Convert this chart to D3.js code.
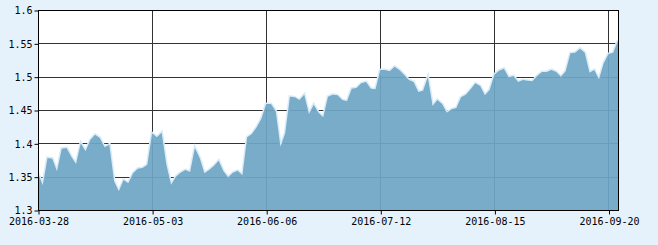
<!DOCTYPE html>
<html>
<head>
<meta charset="utf-8">
<title>net value chart</title>
<script src="https://d3js.org/d3.v7.min.js"></script>
<style>
  html, body { margin: 0; padding: 0; background: #e6f2fb; }
  svg { display: block; }
  .tick text { font-family: "DejaVu Sans Mono", monospace; font-size: 10px; fill: #000; }
</style>
</head>
<body>
<svg id="vis" width="658" height="245"></svg>
<script>
// values, one per trading day (2016-03-28 .. 2016-09-22)
var values = [
  1.355, 1.337, 1.378, 1.377, 1.358, 1.392, 1.393, 1.380, 1.369, 1.400,
  1.388, 1.405, 1.413, 1.408, 1.394, 1.398, 1.343, 1.328, 1.345, 1.340,
  1.355, 1.362, 1.363, 1.368, 1.415, 1.409, 1.416, 1.368, 1.338, 1.350,
  1.356, 1.360, 1.357, 1.393, 1.378, 1.355, 1.360, 1.366, 1.374, 1.358,
  1.349, 1.356, 1.359, 1.352, 1.409, 1.414, 1.424, 1.437, 1.459, 1.459,
  1.448, 1.395, 1.415, 1.470, 1.469, 1.465, 1.473, 1.444, 1.458, 1.446,
  1.439, 1.470, 1.473, 1.472, 1.465, 1.463, 1.482, 1.483, 1.490, 1.492,
  1.482, 1.481, 1.510, 1.510, 1.508, 1.515, 1.510, 1.503, 1.495, 1.492,
  1.477, 1.479, 1.499, 1.456, 1.465, 1.459, 1.446, 1.451, 1.453, 1.469,
  1.473, 1.481, 1.490, 1.486, 1.472, 1.480, 1.503, 1.509, 1.512, 1.499,
  1.501, 1.492, 1.495, 1.494, 1.493, 1.501, 1.507, 1.507, 1.510, 1.507,
  1.500, 1.508, 1.535, 1.536, 1.542, 1.536, 1.506, 1.510, 1.496, 1.520,
  1.534, 1.536, 1.554
];
var xTickIndex = [0, 24, 48, 72, 96, 120];
var xTickLabels = ["2016-03-28", "2016-05-03", "2016-06-06", "2016-07-12", "2016-08-15", "2016-09-20"];
var yTicks = [1.3, 1.35, 1.4, 1.45, 1.5, 1.55, 1.6];

var svg = d3.select("#vis");
var pl = 38, pr = 618, pt = 10, pb = 210;   // plot box

var x = d3.scaleLinear().domain([0, values.length - 1]).range([pl, pr]);
var y = d3.scaleLinear().domain([1.3, 1.6]).range([pb, pt]);

// plot background
svg.append("rect").attr("x", pl).attr("y", pt)
  .attr("width", pr - pl).attr("height", pb - pt).attr("fill", "#fff");

// grid
svg.append("g").selectAll("line").data(yTicks).enter().append("line")
  .attr("x1", pl).attr("x2", pr)
  .attr("y1", function (d) { return Math.round(y(d)) + 0.5; })
  .attr("y2", function (d) { return Math.round(y(d)) + 0.5; })
  .attr("stroke", "#333");
svg.append("g").selectAll("line").data(xTickIndex).enter().append("line")
  .attr("x1", function (d) { return Math.round(x(d)) + 0.5; })
  .attr("x2", function (d) { return Math.round(x(d)) + 0.5; })
  .attr("y1", pt).attr("y2", pb)
  .attr("stroke", "#333");

// area
var area = d3.area()
  .x(function (d, i) { return x(i); })
  .y0(pb)
  .y1(function (d) { return y(d); });
var line = d3.line()
  .x(function (d, i) { return x(i); })
  .y(function (d) { return y(d); });

svg.append("path").datum(values).attr("d", line)
  .attr("fill", "none").attr("stroke", "#d8ecf8").attr("stroke-width", 3);
svg.append("path").datum(values).attr("d", area)
  .attr("fill", "#6fa6c5").attr("fill-opacity", 0.93);

// frame
svg.append("rect").attr("x", pl + 0.5).attr("y", pt + 0.5)
  .attr("width", pr - pl).attr("height", pb - pt)
  .attr("fill", "none").attr("stroke", "#000");

// axes
var xAxis = d3.axisBottom(x).tickValues(xTickIndex)
  .tickFormat(function (d, i) { return xTickLabels[i]; })
  .tickSize(4).tickPadding(3);
var gx = svg.append("g").attr("transform", "translate(0.5," + (pb + 0.5) + ")").call(xAxis);
gx.select(".domain").remove();
gx.selectAll(".tick line").attr("stroke", "#000");

var yAxis = d3.axisLeft(y).tickValues(yTicks)
  .tickFormat(function (d) { return String(d); })
  .tickSize(4).tickPadding(2);
var gy = svg.append("g").attr("transform", "translate(" + (pl + 0.5) + ",0.5)").call(yAxis);
gy.select(".domain").remove();
gy.selectAll(".tick line").attr("stroke", "#000");
</script>
</body>
</html>
